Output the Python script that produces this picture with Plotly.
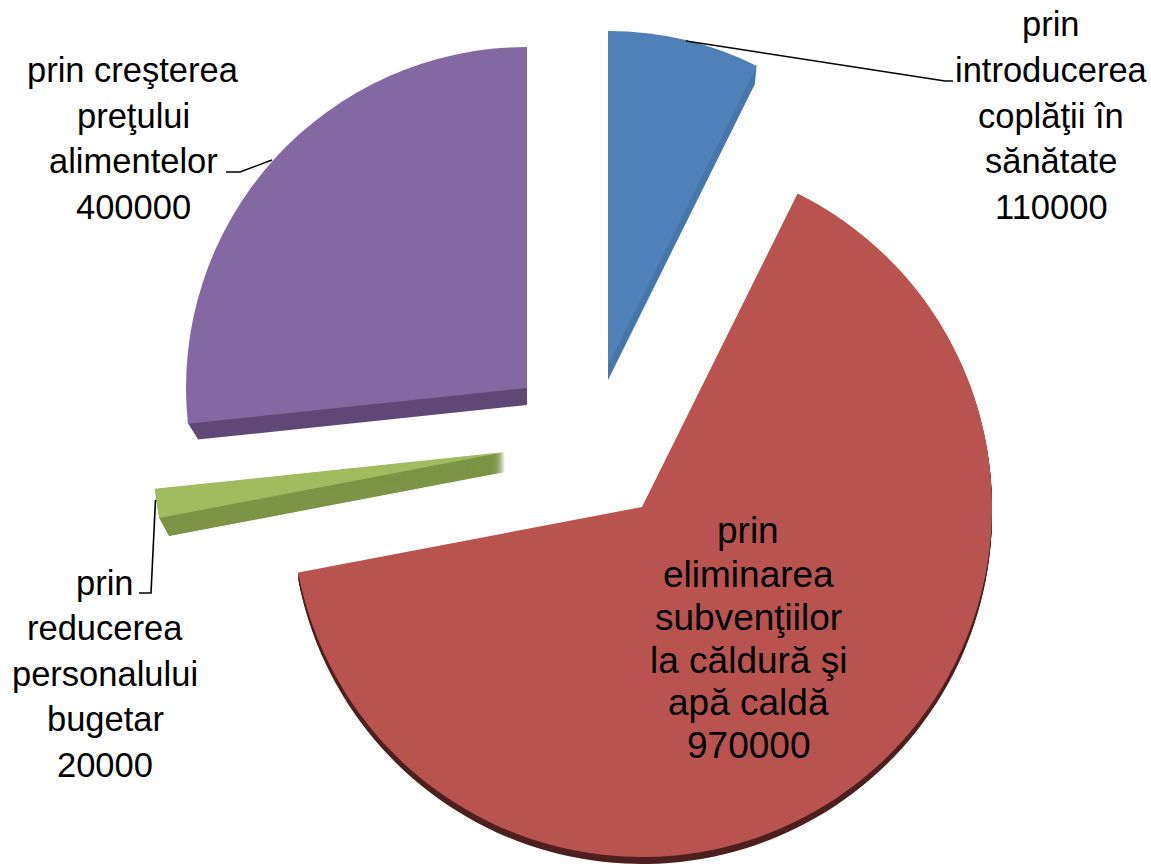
import plotly.graph_objects as go

categories = ["prin introducerea coplăţii în sănătate",
              "prin eliminarea subvenţiilor la căldură şi apă caldă",
              "prin reducerea personalului bugetar",
              "prin creşterea preţului alimentelor"]
values = [110000, 970000, 20000, 400000]

top_colors = ["#5080B8", "#B85350", "#A1BB5F", "#8468A2"]
side_colors = ["#4676AC", "#4D1F1F", "#7C9446", "#604876"]

W, H = 1151, 864
# slice index, centre x, centre y, radius, side depth, side radius shrink, sweep steps
placement = [
    (0, 608, 366, 335, 14, 4, 10),
    (1, 642, 507, 350, 7, 0, 7),
    (2, 505, 452, 352, 20, 10, 40),
    (3, 527, 388, 341, 17, 10, 12),
]
CLEAR = "rgba(0,0,0,0)"


def layer(i, cx, cy, r, color):
    colors = [CLEAR] * len(values)
    colors[i] = color
    return go.Pie(
        labels=categories, values=values, sort=False, direction="clockwise",
        rotation=0, textinfo="none", showlegend=False, hoverinfo="label+value",
        marker=dict(colors=colors, line=dict(width=0)),
        domain=dict(x=[(cx - r) / W, (cx + r) / W],
                    y=[max(0, 1 - (cy + r) / H), 1 - (cy - r) / H]),
    )


fig = go.Figure()
for i, cx, cy, r, d, s, steps in placement:
    for k in range(1, steps + 1):
        f = k / steps
        fig.add_trace(layer(i, cx, cy + d * f, r - s * f, side_colors[i]))
for i, cx, cy, r, d, s, steps in placement:
    fig.add_trace(layer(i, cx, cy, r, top_colors[i]))

label_blocks = [
    (1051, ["prin", "introducerea", "coplăţii în", "sănătate", "110000"], [24, 70, 116, 161, 207], 34.5),
    (133, ["prin creşterea", "preţului", "alimentelor", "400000"], [70, 116, 161, 207], 34.5),
    (105, ["prin", "reducerea", "personalului", "bugetar", "20000"], [583, 628, 674, 719, 765], 34.5),
    (748, ["prin", "eliminarea", "subvenţiilor", "la căldură şi", "apă caldă", "970000"],
     [530, 574, 617, 660, 702, 745], 37),
]
annotations = []
for x, lines, ys, size in label_blocks:
    for t, y in zip(lines, ys):
        annotations.append(dict(x=x / W, y=1 - y / H, xref="paper", yref="paper", text=t,
                                showarrow=False, xanchor="center", yanchor="middle",
                                font=dict(family="Liberation Sans", size=size, color="#000000")))

leaders = [
    [(686, 41), (945, 81), (953, 81)],
    [(272, 160), (240, 172), (226, 172)],
    [(155.5, 500), (151, 593), (139, 593)],
]
shapes = []
for pts in leaders:
    path = "M " + " L ".join(f"{x / W:.5f},{1 - y / H:.5f}" for x, y in pts)
    shapes.append(dict(type="path", xref="paper", yref="paper", path=path,
                       line=dict(color="#000000", width=1.6), fillcolor=CLEAR))

fig.update_layout(width=W, height=H, margin=dict(l=0, r=0, t=0, b=0),
                  paper_bgcolor="#FFFFFF", plot_bgcolor="#FFFFFF",
                  showlegend=False, annotations=annotations, shapes=shapes)
fig.write_html("out.html", config=dict(displayModeBar=False),
               post_script="document.body.style.margin='0';document.body.style.overflow='hidden';")
